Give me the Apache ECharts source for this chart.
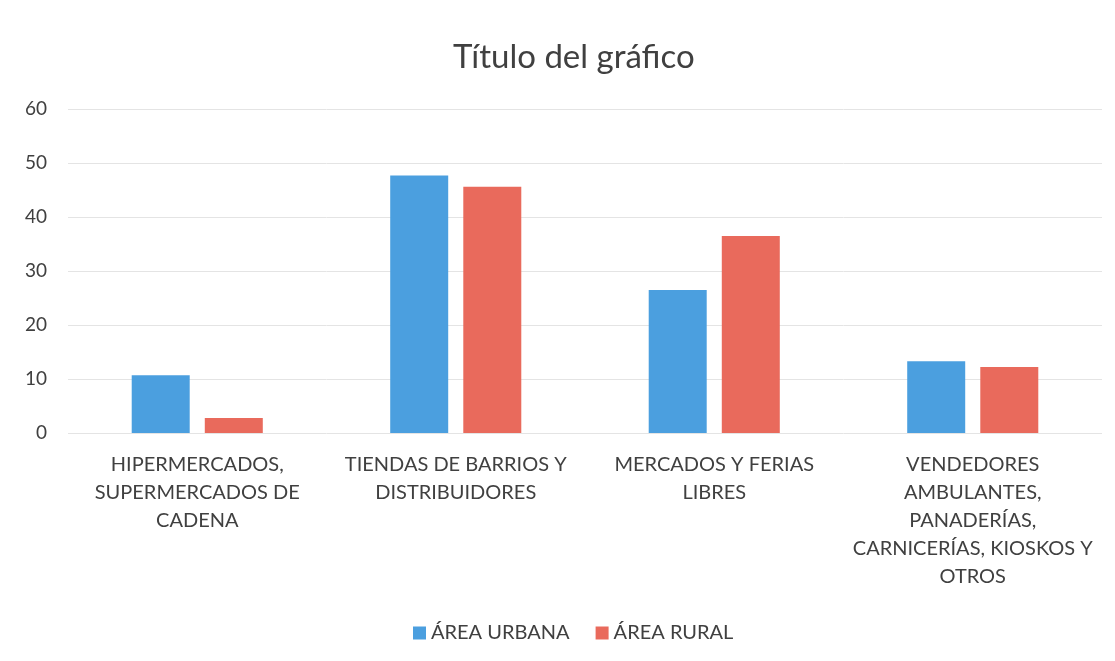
<!DOCTYPE html>
<html>
<head>
<meta charset="utf-8">
<script src="https://cdn.jsdelivr.net/npm/echarts@6/dist/echarts.min.js"></script>
<style>
  html, body { margin: 0; padding: 0; background: #fff; }
  #chart { width: 1115px; height: 661px; }
</style>
</head>
<body>
<div id="chart"></div>
<script>
// data
const categories = [
    'HIPERMERCADOS,\nSUPERMERCADOS DE\nCADENA',
    'TIENDAS DE BARRIOS Y\nDISTRIBUIDORES',
    'MERCADOS Y FERIAS\nLIBRES',
    'VENDEDORES\nAMBULANTES,\nPANADERÍAS,\nCARNICERÍAS, KIOSKOS Y\nOTROS'
];
const urbanValues = [10.7, 47.7, 26.5, 13.3];
const ruralValues = [2.8, 45.6, 36.5, 12.2];
const seriesNames = ['ÁREA URBANA', 'ÁREA RURAL'];

const textColor = '#404040';
const fontFamily = 'Lato, "Open Sans", sans-serif';

let chart = echarts.init(document.getElementById('chart'));

let option = {
    color: ['#4b9fdf', '#e96a5c'],
    textStyle: { fontFamily: fontFamily },
    title: {
        text: 'Título del gráfico',
        left: 448,
        top: 36,
        textStyle: { fontSize: 33, fontWeight: 'normal', color: textColor, fontFamily: fontFamily }
    },
    legend: {
        data: seriesNames,
        left: 408,
        top: 618,
        itemWidth: 13,
        itemHeight: 13,
        itemGap: 26,
        icon: 'rect',
        textStyle: { fontSize: 20, color: textColor, fontFamily: fontFamily }
    },
    grid: { left: 68, right: 13, top: 109, bottom: 228 },
    xAxis: {
        type: 'category',
        data: categories,
        axisLine: { show: false },
        axisTick: { show: false },
        axisLabel: {
            interval: 0,
            margin: 18,
            fontSize: 20,
            lineHeight: 28,
            color: textColor,
            fontFamily: fontFamily
        }
    },
    yAxis: {
        type: 'value',
        min: 0,
        max: 60,
        interval: 10,
        axisLine: { show: false },
        axisTick: { show: false },
        axisLabel: { fontSize: 19, margin: 21, color: textColor, fontFamily: fontFamily },
        splitLine: { lineStyle: { color: '#e4e4e4', width: 1 } }
    },
    series: [
        {
            name: seriesNames[0],
            type: 'bar',
            data: urbanValues,
            barWidth: 58,
            barGap: '26%',
            barCategoryGap: '49%'
        },
        {
            name: seriesNames[1],
            type: 'bar',
            data: ruralValues,
            barWidth: 58
        }
    ]
};

chart.setOption(option);
</script>
</body>
</html>
